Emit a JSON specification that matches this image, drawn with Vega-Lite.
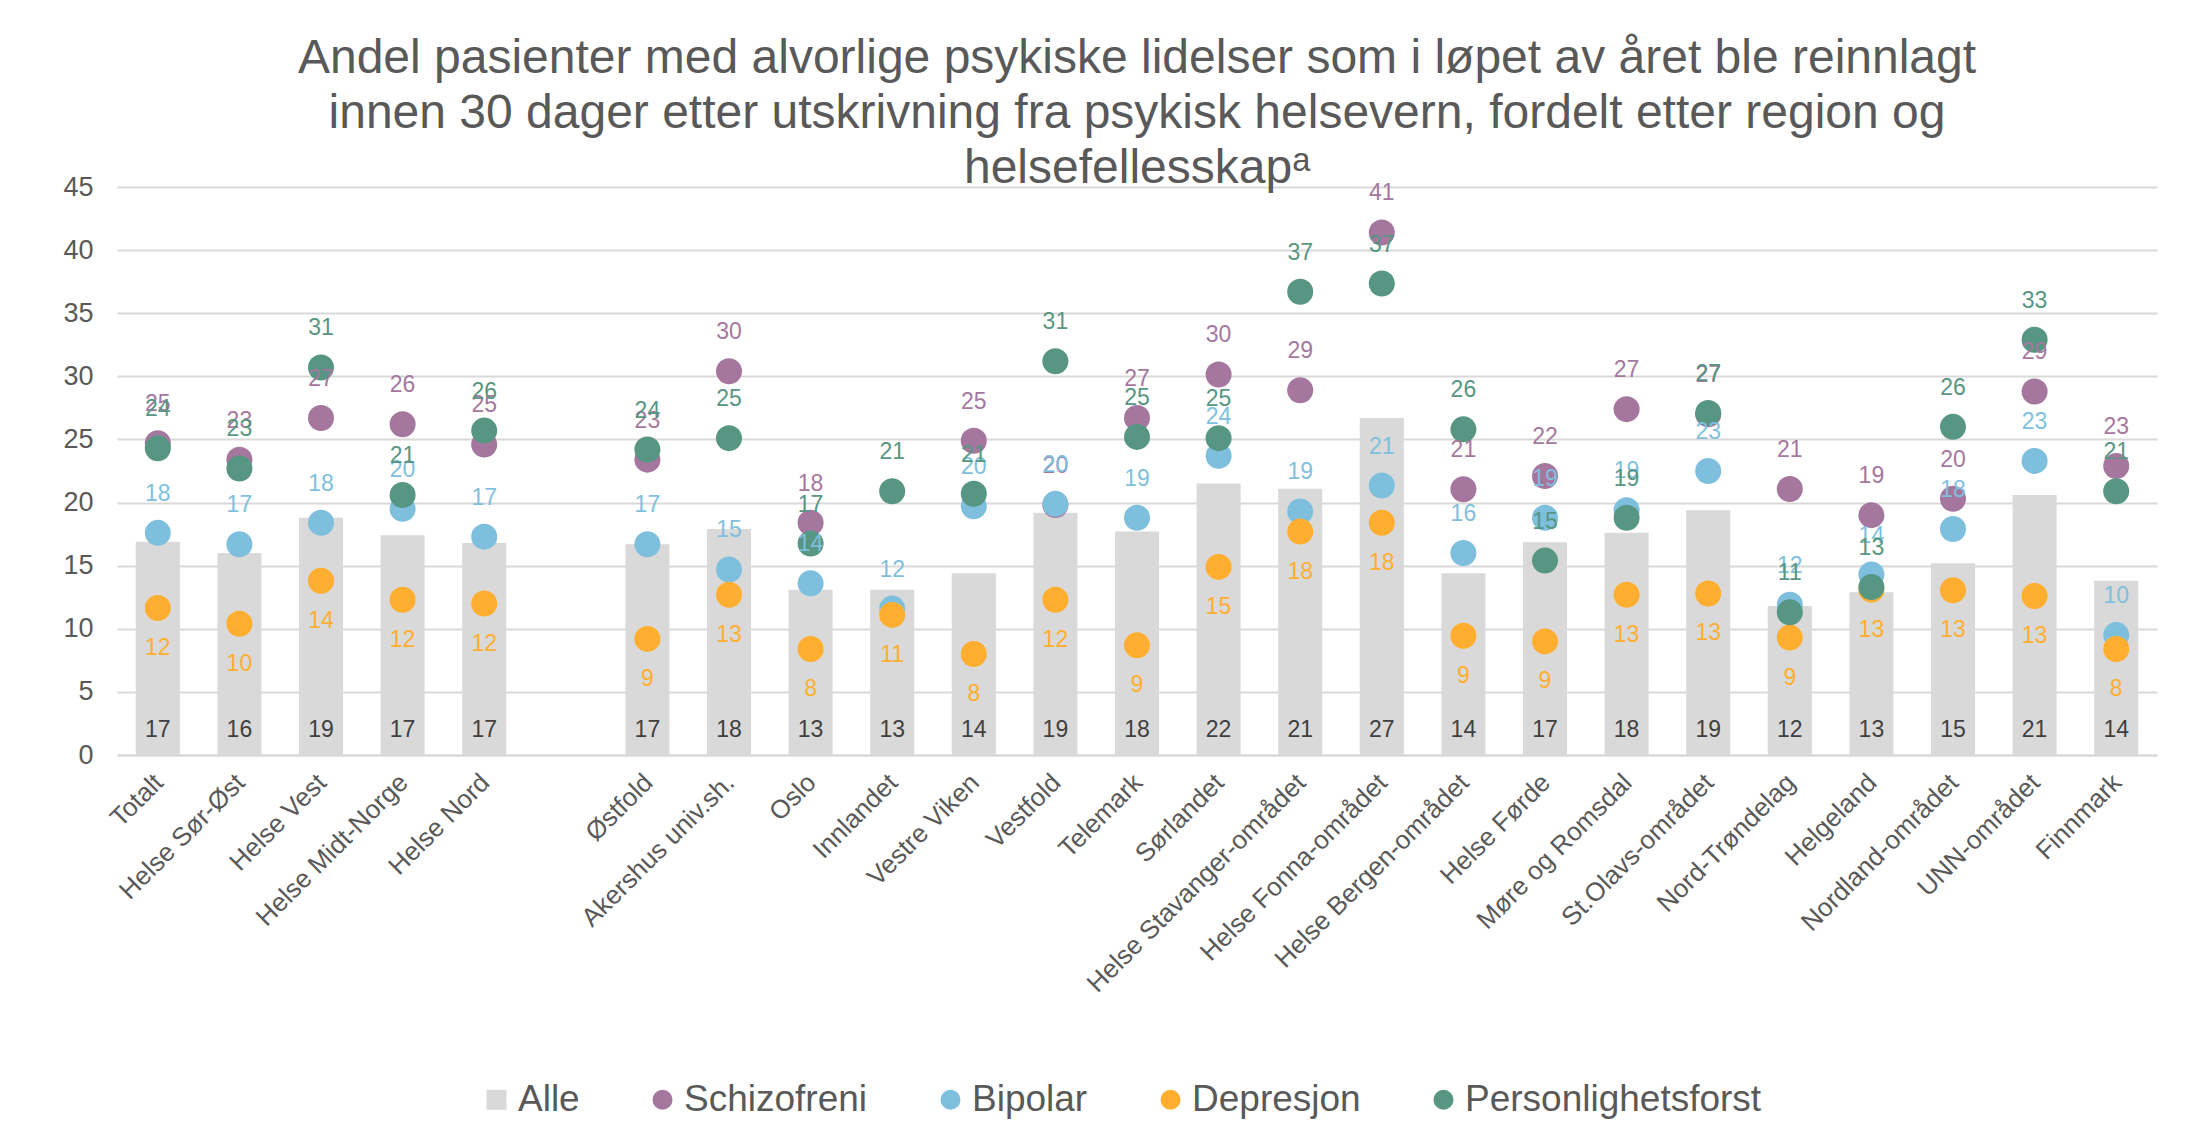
{
  "$schema": "https://vega.github.io/schema/vega-lite/v6.json",
  "width": 2040,
  "height": 568,
  "autosize": {"type": "none"},
  "padding": {"left": 117, "top": 187, "right": 46, "bottom": 383},
  "background": "white",
  "title": {
    "text": ["Andel pasienter med alvorlige psykiske lidelser som i løpet av året ble reinnlagt", "innen 30 dager etter utskrivning fra psykisk helsevern, fordelt etter region og", "helsefellesskapᵃ"],
    "fontSize": 48,
    "font": "Liberation Sans",
    "fontWeight": "normal",
    "color": "#595959",
    "anchor": "middle",
    "lineHeight": 55,
    "offset": -20
  },
  "config": {
    "font": "Liberation Sans",
    "view": {"stroke": null},
    "legend": {
      "orient": "none",
      "legendX": 361,
      "legendY": 894,
      "direction": "horizontal",
      "title": null,
      "labelFontSize": 37,
      "labelColor": "#595959",
      "labelFont": "Liberation Sans",
      "labelOffset": 3,
      "columnPadding": 64,
      "symbolSize": 400,
      "symbolStrokeWidth": 0,
      "symbolOpacity": 1,
      "padding": 0,
      "labelLimit": 0
    }
  },
  "data": {"values": [
    {"r": "Totalt", "s": "Alle", "v": 16.9},
    {"r": "Helse Sør-Øst", "s": "Alle", "v": 16.0},
    {"r": "Helse Vest", "s": "Alle", "v": 18.8},
    {"r": "Helse Midt-Norge", "s": "Alle", "v": 17.4},
    {"r": "Helse Nord", "s": "Alle", "v": 16.8},
    {"r": "Østfold", "s": "Alle", "v": 16.7},
    {"r": "Akershus univ.sh.", "s": "Alle", "v": 17.9},
    {"r": "Oslo", "s": "Alle", "v": 13.1},
    {"r": "Innlandet", "s": "Alle", "v": 13.1},
    {"r": "Vestre Viken", "s": "Alle", "v": 14.4},
    {"r": "Vestfold", "s": "Alle", "v": 19.2},
    {"r": "Telemark", "s": "Alle", "v": 17.7},
    {"r": "Sørlandet", "s": "Alle", "v": 21.5},
    {"r": "Helse Stavanger-området", "s": "Alle", "v": 21.1},
    {"r": "Helse Fonna-området", "s": "Alle", "v": 26.7},
    {"r": "Helse Bergen-området", "s": "Alle", "v": 14.4},
    {"r": "Helse Førde", "s": "Alle", "v": 16.85},
    {"r": "Møre og Romsdal", "s": "Alle", "v": 17.6},
    {"r": "St.Olavs-området", "s": "Alle", "v": 19.4},
    {"r": "Nord-Trøndelag", "s": "Alle", "v": 11.8},
    {"r": "Helgeland", "s": "Alle", "v": 12.9},
    {"r": "Nordland-området", "s": "Alle", "v": 15.2},
    {"r": "UNN-området", "s": "Alle", "v": 20.6},
    {"r": "Finnmark", "s": "Alle", "v": 13.8},

    {"r": "Totalt", "s": "Schizofreni", "v": 24.7},
    {"r": "Helse Sør-Øst", "s": "Schizofreni", "v": 23.4},
    {"r": "Helse Vest", "s": "Schizofreni", "v": 26.7},
    {"r": "Helse Midt-Norge", "s": "Schizofreni", "v": 26.2},
    {"r": "Helse Nord", "s": "Schizofreni", "v": 24.6},
    {"r": "Østfold", "s": "Schizofreni", "v": 23.4},
    {"r": "Akershus univ.sh.", "s": "Schizofreni", "v": 30.4},
    {"r": "Oslo", "s": "Schizofreni", "v": 18.4},
    {"r": "Vestre Viken", "s": "Schizofreni", "v": 24.9},
    {"r": "Vestfold", "s": "Schizofreni", "v": 19.8},
    {"r": "Telemark", "s": "Schizofreni", "v": 26.7},
    {"r": "Sørlandet", "s": "Schizofreni", "v": 30.15},
    {"r": "Helse Stavanger-området", "s": "Schizofreni", "v": 28.9},
    {"r": "Helse Fonna-området", "s": "Schizofreni", "v": 41.4},
    {"r": "Helse Bergen-området", "s": "Schizofreni", "v": 21.05},
    {"r": "Helse Førde", "s": "Schizofreni", "v": 22.1},
    {"r": "Møre og Romsdal", "s": "Schizofreni", "v": 27.4},
    {"r": "St.Olavs-området", "s": "Schizofreni", "v": 27.0},
    {"r": "Nord-Trøndelag", "s": "Schizofreni", "v": 21.07},
    {"r": "Helgeland", "s": "Schizofreni", "v": 19.0},
    {"r": "Nordland-området", "s": "Schizofreni", "v": 20.3},
    {"r": "UNN-området", "s": "Schizofreni", "v": 28.8},
    {"r": "Finnmark", "s": "Schizofreni", "v": 22.9},

    {"r": "Totalt", "s": "Bipolar", "v": 17.6},
    {"r": "Helse Sør-Øst", "s": "Bipolar", "v": 16.7},
    {"r": "Helse Vest", "s": "Bipolar", "v": 18.4},
    {"r": "Helse Midt-Norge", "s": "Bipolar", "v": 19.5},
    {"r": "Helse Nord", "s": "Bipolar", "v": 17.3},
    {"r": "Østfold", "s": "Bipolar", "v": 16.7},
    {"r": "Akershus univ.sh.", "s": "Bipolar", "v": 14.7},
    {"r": "Oslo", "s": "Bipolar", "v": 13.6},
    {"r": "Innlandet", "s": "Bipolar", "v": 11.6},
    {"r": "Vestre Viken", "s": "Bipolar", "v": 19.7},
    {"r": "Vestfold", "s": "Bipolar", "v": 19.9},
    {"r": "Telemark", "s": "Bipolar", "v": 18.8},
    {"r": "Sørlandet", "s": "Bipolar", "v": 23.7},
    {"r": "Helse Stavanger-området", "s": "Bipolar", "v": 19.3},
    {"r": "Helse Fonna-området", "s": "Bipolar", "v": 21.35},
    {"r": "Helse Bergen-området", "s": "Bipolar", "v": 16.0},
    {"r": "Helse Førde", "s": "Bipolar", "v": 18.8},
    {"r": "Møre og Romsdal", "s": "Bipolar", "v": 19.4},
    {"r": "St.Olavs-området", "s": "Bipolar", "v": 22.5},
    {"r": "Nord-Trøndelag", "s": "Bipolar", "v": 11.9},
    {"r": "Helgeland", "s": "Bipolar", "v": 14.3},
    {"r": "Nordland-området", "s": "Bipolar", "v": 17.9},
    {"r": "UNN-området", "s": "Bipolar", "v": 23.3},
    {"r": "Finnmark", "s": "Bipolar", "v": 9.5},

    {"r": "Totalt", "s": "Depresjon", "v": 11.65},
    {"r": "Helse Sør-Øst", "s": "Depresjon", "v": 10.4},
    {"r": "Helse Vest", "s": "Depresjon", "v": 13.8},
    {"r": "Helse Midt-Norge", "s": "Depresjon", "v": 12.3},
    {"r": "Helse Nord", "s": "Depresjon", "v": 12.0},
    {"r": "Østfold", "s": "Depresjon", "v": 9.2},
    {"r": "Akershus univ.sh.", "s": "Depresjon", "v": 12.7},
    {"r": "Oslo", "s": "Depresjon", "v": 8.4},
    {"r": "Innlandet", "s": "Depresjon", "v": 11.1},
    {"r": "Vestre Viken", "s": "Depresjon", "v": 8.0},
    {"r": "Vestfold", "s": "Depresjon", "v": 12.3},
    {"r": "Telemark", "s": "Depresjon", "v": 8.7},
    {"r": "Sørlandet", "s": "Depresjon", "v": 14.9},
    {"r": "Helse Stavanger-området", "s": "Depresjon", "v": 17.7},
    {"r": "Helse Fonna-området", "s": "Depresjon", "v": 18.4},
    {"r": "Helse Bergen-området", "s": "Depresjon", "v": 9.45},
    {"r": "Helse Førde", "s": "Depresjon", "v": 9.0},
    {"r": "Møre og Romsdal", "s": "Depresjon", "v": 12.7},
    {"r": "St.Olavs-området", "s": "Depresjon", "v": 12.8},
    {"r": "Nord-Trøndelag", "s": "Depresjon", "v": 9.3},
    {"r": "Helgeland", "s": "Depresjon", "v": 13.1},
    {"r": "Nordland-området", "s": "Depresjon", "v": 13.05},
    {"r": "UNN-området", "s": "Depresjon", "v": 12.6},
    {"r": "Finnmark", "s": "Depresjon", "v": 8.4},

    {"r": "Totalt", "s": "Personlighetsforst", "v": 24.3},
    {"r": "Helse Sør-Øst", "s": "Personlighetsforst", "v": 22.7},
    {"r": "Helse Vest", "s": "Personlighetsforst", "v": 30.7},
    {"r": "Helse Midt-Norge", "s": "Personlighetsforst", "v": 20.6},
    {"r": "Helse Nord", "s": "Personlighetsforst", "v": 25.7},
    {"r": "Østfold", "s": "Personlighetsforst", "v": 24.2},
    {"r": "Akershus univ.sh.", "s": "Personlighetsforst", "v": 25.1},
    {"r": "Oslo", "s": "Personlighetsforst", "v": 16.75},
    {"r": "Innlandet", "s": "Personlighetsforst", "v": 20.9},
    {"r": "Vestre Viken", "s": "Personlighetsforst", "v": 20.7},
    {"r": "Vestfold", "s": "Personlighetsforst", "v": 31.2},
    {"r": "Telemark", "s": "Personlighetsforst", "v": 25.2},
    {"r": "Sørlandet", "s": "Personlighetsforst", "v": 25.1},
    {"r": "Helse Stavanger-området", "s": "Personlighetsforst", "v": 36.7},
    {"r": "Helse Fonna-området", "s": "Personlighetsforst", "v": 37.35},
    {"r": "Helse Bergen-området", "s": "Personlighetsforst", "v": 25.8},
    {"r": "Helse Førde", "s": "Personlighetsforst", "v": 15.4},
    {"r": "Møre og Romsdal", "s": "Personlighetsforst", "v": 18.8},
    {"r": "St.Olavs-området", "s": "Personlighetsforst", "v": 27.1},
    {"r": "Nord-Trøndelag", "s": "Personlighetsforst", "v": 11.3},
    {"r": "Helgeland", "s": "Personlighetsforst", "v": 13.3},
    {"r": "Nordland-området", "s": "Personlighetsforst", "v": 26.0},
    {"r": "UNN-området", "s": "Personlighetsforst", "v": 32.9},
    {"r": "Finnmark", "s": "Personlighetsforst", "v": 20.9}
  ]},
  "encoding": {
    "x": {
      "field": "r",
      "type": "nominal",
      "sort": null,
      "scale": {
        "domain": ["Totalt", "Helse Sør-Øst", "Helse Vest", "Helse Midt-Norge", "Helse Nord", " ", "Østfold", "Akershus univ.sh.", "Oslo", "Innlandet", "Vestre Viken", "Vestfold", "Telemark", "Sørlandet", "Helse Stavanger-området", "Helse Fonna-området", "Helse Bergen-området", "Helse Førde", "Møre og Romsdal", "St.Olavs-området", "Nord-Trøndelag", "Helgeland", "Nordland-området", "UNN-området", "Finnmark"],
        "paddingInner": 0.46,
        "paddingOuter": 0.23
      },
      "axis": {
        "title": null,
        "labelAngle": -45,
        "labelAlign": "right",
        "labelBaseline": "top",
        "labelPadding": 14,
        "labelOffset": -8,
        "labelFontSize": 26,
        "labelColor": "#595959",
        "labelLimit": 0,
        "ticks": false,
        "domain": true,
        "domainColor": "#D9D9D9",
        "domainWidth": 2,
        "grid": false
      }
    }
  },
  "layer": [
    {
      "transform": [{"filter": "datum.s === 'Alle'"}],
      "mark": {"type": "bar", "color": "#D9D9D9"},
      "encoding": {
        "y": {
          "field": "v",
          "type": "quantitative",
          "scale": {"domain": [0, 45], "nice": false},
          "axis": {
            "title": null,
            "values": [0, 5, 10, 15, 20, 25, 30, 35, 40, 45],
            "domain": false,
            "ticks": false,
            "grid": true,
            "gridColor": "#D9D9D9",
            "gridWidth": 2,
            "labelFontSize": 27,
            "labelColor": "#595959",
            "labelPadding": 24
          }
        },
        "color": {
          "field": "s",
          "type": "nominal",
          "scale": {
            "domain": ["Alle", "Schizofreni", "Bipolar", "Depresjon", "Personlighetsforst"],
            "range": ["#D9D9D9", "#A5779F", "#7FBFDE", "#FFAE2F", "#579682"]
          }
        }
      }
    },
    {
      "transform": [{"filter": "datum.s === 'Alle'"}],
      "mark": {"type": "text", "dy": -25, "fontSize": 23, "color": "#404040", "baseline": "middle"},
      "encoding": {
        "y": {"datum": 0, "type": "quantitative"},
        "text": {"field": "v", "type": "quantitative", "format": ".0f"}
      }
    },
    {
      "transform": [{"filter": "datum.s !== 'Alle'"}],
      "mark": {"type": "point", "filled": true, "opacity": 1, "size": 676, "strokeWidth": 0},
      "encoding": {
        "y": {"field": "v", "type": "quantitative"},
        "color": {"field": "s", "type": "nominal"},
        "shape": {
          "field": "s",
          "type": "nominal",
          "scale": {
            "domain": ["Alle", "Schizofreni", "Bipolar", "Depresjon", "Personlighetsforst"],
            "range": ["square", "circle", "circle", "circle", "circle"]
          }
        }
      }
    },
    {
      "transform": [{"filter": "datum.s !== 'Alle' && datum.s !== 'Depresjon'"}],
      "mark": {"type": "text", "dy": -39, "fontSize": 23, "baseline": "middle"},
      "encoding": {
        "y": {"field": "v", "type": "quantitative"},
        "text": {"field": "v", "type": "quantitative", "format": ".0f"},
        "color": {
          "condition": [
            {"test": "datum.s === 'Schizofreni'", "value": "#A5779F"},
            {"test": "datum.s === 'Bipolar'", "value": "#7FBFDE"}
          ],
          "value": "#579682"
        }
      }
    },
    {
      "transform": [{"filter": "datum.s === 'Depresjon'"}],
      "mark": {"type": "text", "dy": 40, "fontSize": 23, "baseline": "middle", "color": "#FFAE2F"},
      "encoding": {
        "y": {"field": "v", "type": "quantitative"},
        "text": {"field": "v", "type": "quantitative", "format": ".0f"}
      }
    }
  ]
}
